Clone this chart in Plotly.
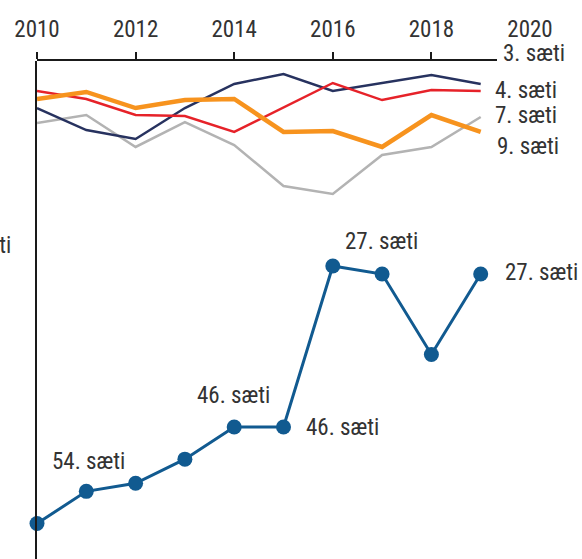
import plotly.graph_objects as go

years = [2010, 2011, 2012, 2013, 2014, 2015, 2016, 2017, 2018, 2019]
tick_years = [2010, 2012, 2014, 2016, 2018, 2020]

# upper panel (index of position, 3 = top line)
navy = [6.36, 7.93, 8.57, 6.36, 4.64, 3.93, 5.14, 4.57, 4.00, 4.64]
red = [5.14, 5.71, 6.86, 6.93, 8.07, 6.29, 4.57, 5.79, 5.07, 5.14]
orange = [5.71, 5.21, 6.36, 5.79, 5.71, 8.07, 8.00, 9.14, 6.86, 8.07]
gray = [7.43, 6.86, 9.14, 7.36, 9.00, 11.93, 12.50, 9.71, 9.14, 7.00]

# lower panel (rank)
blue = [58, 54, 53, 50, 46, 46, 26, 27, 37, 27]

FONT = "Liberation Sans Narrow, Arial Narrow, Roboto Condensed, Roboto, sans-serif"
TXT = "#333333"

fig = go.Figure()
fig.add_trace(go.Scatter(x=years, y=gray, mode="lines", xaxis="x2", yaxis="y2",
                         line=dict(color="#b3b3b3", width=2.5)))
fig.add_trace(go.Scatter(x=years, y=navy, mode="lines", xaxis="x2", yaxis="y2",
                         line=dict(color="#27325f", width=2.5)))
fig.add_trace(go.Scatter(x=years, y=red, mode="lines", xaxis="x2", yaxis="y2",
                         line=dict(color="#e62229", width=2.5)))
fig.add_trace(go.Scatter(x=years, y=orange, mode="lines", xaxis="x2", yaxis="y2",
                         line=dict(color="#f7931e", width=4.5)))
fig.add_trace(go.Scatter(x=years, y=blue, mode="lines+markers", xaxis="x", yaxis="y",
                         line=dict(color="#115a90", width=3),
                         marker=dict(color="#115a90", size=15),
                         cliponaxis=False))

px_per_year = 49.3
plot_w = 582 - 37
plot_h = 559 - 61
x2_w = 460

ann = []
def label(text, x, y, xref, yref, xanchor="center", xshift=0, yshift=0):
    ann.append(dict(text=text, x=x, y=y, xref=xref, yref=yref, xanchor=xanchor,
                    yanchor="middle", xshift=xshift, yshift=yshift, showarrow=False,
                    font=dict(family=FONT, size=23, color=TXT)))

# upper labels
label("3. sæti", 0.8514, 3, "paper", "y2", xanchor="left", yshift=8)
label("4. sæti", 0.8367, 5.14, "paper", "y2", xanchor="left")
label("7. sæti", 0.8367, 6.86, "paper", "y2", xanchor="left")
label("9. sæti", 0.8404, 9.14, "paper", "y2", xanchor="left")
# lower labels
label("27. sæti", 2016, 26, "x", "y", xshift=49, yshift=24)
label("27. sæti", 2019, 27, "x", "y", xanchor="left", xshift=22, yshift=2)
label("46. sæti", 2014, 46, "x", "y", xshift=-1, yshift=31)
label("46. sæti", 2015, 46, "x", "y", xanchor="left", xshift=20, yshift=-1)
label("54. sæti", 2011, 54, "x", "y", xshift=2, yshift=30)
label("sæti", -0.0440, 23.5, "paper", "y", xanchor="right")

fig.update_layout(
    width=582, height=559,
    margin=dict(l=37, r=0, t=61, b=0),
    paper_bgcolor="white", plot_bgcolor="rgba(0,0,0,0)",
    showlegend=False,
    font=dict(family=FONT, color=TXT),
    annotations=ann,
    xaxis=dict(domain=[0, 1], range=[2010, 2010 + plot_w / px_per_year], side="top",
               anchor="y", tickvals=tick_years, ticks="", showline=False,
               showgrid=False, zeroline=False, ticklabelstandoff=18,
               tickfont=dict(family=FONT, size=23, color=TXT)),
    yaxis=dict(domain=[0, 1], range=[27 + (559 - 274) / 8.05, 27 - (274 - 61) / 8.05],
               anchor="x", showline=True, linecolor="#1a1a1a", linewidth=2,
               showticklabels=False, ticks="", showgrid=False, zeroline=False),
    xaxis2=dict(domain=[0, x2_w / plot_w], range=[2010, 2010 + x2_w / px_per_year],
                side="top", anchor="y2", tickvals=[2010, 2012, 2014, 2016, 2018],
                ticks="outside", ticklen=7, tickwidth=2, tickcolor="#1a1a1a",
                showticklabels=False, showline=True, linecolor="#1a1a1a", linewidth=2,
                showgrid=False, zeroline=False),
    yaxis2=dict(domain=[0, 1], range=[3 + plot_h / 14, 3], anchor="x2",
                showline=False, showticklabels=False, ticks="", showgrid=False,
                zeroline=False),
)

fig.write_html("out.html", config={"displayModeBar": False},
               post_script="document.body.style.margin='0';document.body.style.padding='0';")
